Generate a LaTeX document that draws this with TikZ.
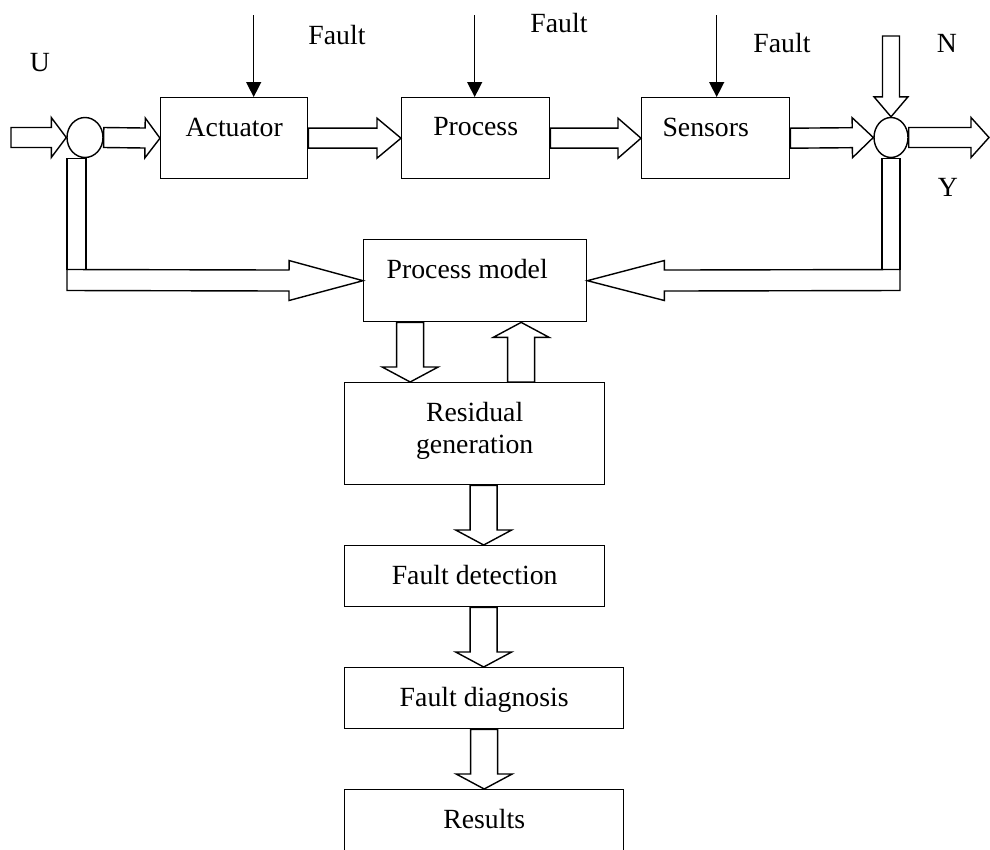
\documentclass[tikz,border=0pt]{standalone}
\usepackage{fontspec}
\setmainfont{Liberation Serif}
\usetikzlibrary{arrows.meta, positioning, calc, shapes.geometric}

% hollow block arrow: from, to, half shaft, half head, head length
\newcommand{\fatarrow}[5]{%
  \draw[flow] ($(#1)!#3!90:(#2)$)
    -- ($($(#2)!#5!(#1)$)!#3!90:(#2)$)
    -- ($($(#2)!#5!(#1)$)!#4!90:(#2)$)
    -- (#2)
    -- ($($(#2)!#5!(#1)$)!#4!-90:(#2)$)
    -- ($($(#2)!#5!(#1)$)!#3!-90:(#2)$)
    -- ($(#1)!#3!-90:(#2)$) -- cycle;}

\begin{document}
\begin{tikzpicture}[
    x=0.02cm, y=-0.02cm,
    font=\fontsize{15.8}{18.1}\selectfont,
    line width=0.8pt,
    blk/.style={draw, anchor=north west, inner sep=0pt},
    txt/.style={anchor=north, inner sep=0pt, yshift=-0.4cm, align=center},
    junc/.style={draw, ellipse, inner sep=0pt, minimum width=0.72cm, minimum height=0.8cm},
    flow/.style={line join=miter},
    fault/.style={-{Triangle[width=8.5pt, length=8.5pt]}},
]
\useasboundingbox (0,0) rectangle (990,849);
\clip (0,0) rectangle (990,849);

% ---- forward path ----
\node[junc] (uc) at (85,137.5) {};
\node[blk, minimum width=2.94cm, minimum height=1.62cm, label={[txt]north:Actuator}] (act) at (160,97) {};
\node[blk, minimum width=2.96cm, minimum height=1.62cm, label={[txt]north:Process}] (proc) at (401,97) {};
\node[blk, minimum width=2.96cm, minimum height=1.62cm, label={[txt, xshift=-0.2cm]north:Sensors}] (sens) at (641,97) {};
\node[junc, minimum width=0.68cm] (yc) at (891,137.5) {};

\node (ulab) at (40,63) {U};
\node (nlab) at (947,43) {N};
\node (ylab) at (948,187) {Y};
\node (flt1) at (337,35) {Fault};
\node (flt2) at (559,23) {Fault};
\node (flt3) at (782,43) {Fault};

% ---- diagnosis chain ----
\node[blk, minimum width=4.46cm, minimum height=1.64cm, label={[txt, xshift=-0.16cm]north:Process model}] (pm) at (363,239) {};
\node[blk, minimum width=5.2cm, minimum height=2.04cm, label={[txt]north:Residual\\generation}] (rg) at (344,382) {};
\node[blk, minimum width=5.2cm, minimum height=1.22cm, label={[txt]north:Fault detection}] (fd) at (344,545) {};
\node[blk, minimum width=5.58cm, minimum height=1.22cm, label={[txt]north:Fault diagnosis}] (fdiag) at (344,667) {};
\node[blk, minimum width=5.58cm, minimum height=1.7cm, label={[txt]north:Results}] (res) at (344,789) {};

% faults acting on the blocks
\foreach \b/\dx in {act/19.5, proc/-1, sens/1}
  \draw[fault] ($(\b.north)+(\dx,-82)$) -- ($(\b.north)+(\dx,0)$);

% block arrows along the loop
\coordinate (uin) at (11,137.5);
\coordinate (yout) at (989,137.5);
\coordinate (nin) at (891,36);
\fatarrow{uin}{uc.west}{0.2cm}{0.4cm}{0.3cm}
\fatarrow{uc.east}{act.west}{0.2cm}{0.4cm}{0.3cm}
\fatarrow{act.east}{proc.west}{0.2cm}{0.4cm}{0.48cm}
\fatarrow{proc.east}{sens.west}{0.2cm}{0.4cm}{0.46cm}
\fatarrow{sens.east}{yc.west}{0.2cm}{0.4cm}{0.42cm}
\fatarrow{yc.east}{yout}{0.2cm}{0.4cm}{0.36cm}
\fatarrow{nin}{yc.north}{0.17cm}{0.34cm}{0.4cm}

% U and Y into the model
\coordinate (ufb) at (67,280);
\coordinate (yfb) at (900,280);
\draw (uc.south -| ufb) rectangle ($(ufb)+(19,-10.5)$);
\draw (yc.south -| yfb) rectangle ($(yfb)+(-18,-10.5)$);
\fatarrow{ufb}{pm.west}{0.21cm}{0.4cm}{1.48cm}
\fatarrow{yfb}{pm.east}{0.21cm}{0.4cm}{1.54cm}

% model <-> residuals, then down the chain
\coordinate (pmout) at ($(pm.south)+(-65,0)$);
\coordinate (rgin) at (pmout |- rg.north);
\coordinate (rgout) at ($(rg.north)+(46.5,0)$);
\coordinate (pmin) at (rgout |- pm.south);
\coordinate (rgdown) at ($(rg.south)+(9,0)$);
\coordinate (fdin) at (rgdown |- fd.north);
\coordinate (fdout) at ($(fd.south)+(9,0)$);
\coordinate (fdiagin) at (fdout |- fdiag.north);
\fatarrow{pmout}{rgin}{0.27cm}{0.56cm}{0.3cm}
\fatarrow{rgout}{pmin}{0.27cm}{0.56cm}{0.3cm}
\fatarrow{rgdown}{fdin}{0.27cm}{0.56cm}{0.3cm}
\fatarrow{fdout}{fdiagin}{0.27cm}{0.56cm}{0.3cm}
\fatarrow{fdiag.south}{res.north}{0.27cm}{0.56cm}{0.3cm}

\end{tikzpicture}
\end{document}
